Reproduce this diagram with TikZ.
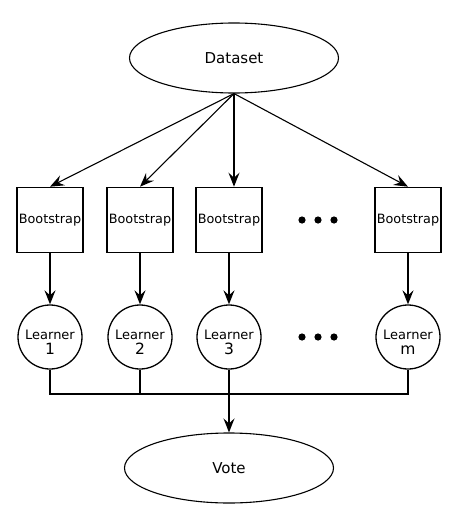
\documentclass[tikz,border=0pt]{standalone}
\usepackage{fontspec}
\setmainfont{DejaVu Sans}
\usetikzlibrary{arrows.meta, shapes.geometric}

\begin{document}
\begin{tikzpicture}[x=1pt, y=-1pt,
	tip/.style={-{Stealth[length=14pt, width=11pt, inset=5pt]}},
	oval/.style={ellipse, draw, line width=1.1pt, minimum width=209pt, minimum height=70pt, inner sep=0pt, font=\fontsize{15}{17}\selectfont},
	boot/.style={draw, line width=1.6pt, minimum width=66pt, minimum height=65pt, inner sep=0pt, font=\fontsize{12.8}{15}\selectfont},
	learner/.style={circle, draw, line width=1.3pt, minimum size=64pt, inner sep=0pt}]
	\def \rowb{220} % bootstrap row
	\def \rowl{337} % learner row
	\def \dotr{3.6}
	\useasboundingbox (0,0) rectangle (460,530);
	% top and bottom
	\node[oval] (data) at (234,58) {Dataset};
	\node[oval] (vote) at (229,468) {Vote};
	% bootstrap boxes
	\node[boot] (b1) at (50,\rowb) {Bootstrap};
	\node[boot] (b2) at (140,\rowb) {Bootstrap};
	\node[boot] (b3) at (229,\rowb) {Bootstrap};
	\node[boot] (bm) at (408,\rowb) {Bootstrap};
	% learners
	\node[learner, label={[align=center, yshift=-5pt, font=\fontsize{13}{15}\selectfont]center:Learner\\{\fontsize{15.5}{15}\selectfont 1}}] (l1) at (50,\rowl) {};
	\node[learner, label={[align=center, yshift=-5pt, font=\fontsize{13}{15}\selectfont]center:Learner\\{\fontsize{15.5}{15}\selectfont 2}}] (l2) at (140,\rowl) {};
	\node[learner, label={[align=center, yshift=-5pt, font=\fontsize{13}{15}\selectfont]center:Learner\\{\fontsize{15.5}{15}\selectfont 3}}] (l3) at (229,\rowl) {};
	\node[learner, label={[align=center, yshift=-5pt, font=\fontsize{13}{15}\selectfont]center:Learner\\{\fontsize{15.5}{15}\selectfont m}}] (lm) at (408,\rowl) {};
	% dots
	\fill (302,\rowb) circle (\dotr);
	\fill (318,\rowb) circle (\dotr);
	\fill (334,\rowb) circle (\dotr);
	\fill (302,\rowl) circle (\dotr);
	\fill (318,\rowl) circle (\dotr);
	\fill (334,\rowl) circle (\dotr);
	% dataset to bootstraps
	\draw[tip, line width=1.1pt] (data.south) -- (b1.north);
	\draw[tip, line width=1.1pt] (data.south) -- (b2.north);
	\draw[tip, line width=1.3pt] (data.south) -- (data.south |- b3.north);
	\draw[tip, line width=1.1pt] (data.south) -- (bm.north);
	% bootstraps to learners
	\draw[tip, line width=1.5pt] (b1) -- (l1);
	\draw[tip, line width=1.5pt] (b2) -- (l2);
	\draw[tip, line width=1.5pt] (b3) -- (l3);
	\draw[tip, line width=1.5pt] (bm) -- (lm);
	% collecting the votes
	\coordinate (bus) at (229,394);
	\draw[line width=1.5pt] (l1.south) -- (l1.south |- bus) -- (lm.south |- bus) -- (lm.south);
	\draw[line width=1.5pt] (l2.south) -- (l2.south |- bus);
	\draw[tip, line width=1.5pt] (l3.south) -- (vote.north);
\end{tikzpicture}
\end{document}
